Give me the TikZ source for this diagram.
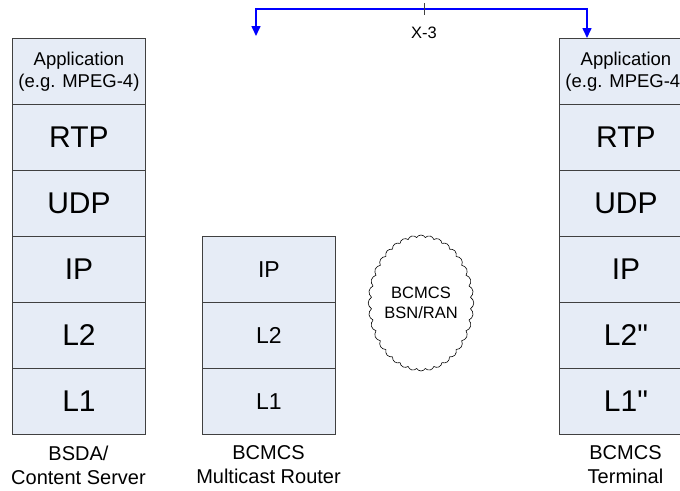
\documentclass[tikz,border=0pt]{standalone}
\usepackage{fontspec}
\setmainfont{Liberation Sans}
\usetikzlibrary{shapes.symbols,arrows.meta}
\definecolor{layerfill}{RGB}{230,236,246}
\definecolor{layerline}{RGB}{64,64,64}
\definecolor{xblue}{RGB}{0,0,255}

\begin{document}
\begin{tikzpicture}[x=1pt,y=-1pt,
	layer/.style={draw=layerline, line width=0.9pt, fill=layerfill, minimum width=133pt, minimum height=66pt, inner sep=0pt, align=center, anchor=north west},
	bigtxt/.style={font=\fontsize{30}{32}\selectfont},
	midtxt/.style={font=\fontsize{23}{25}\selectfont},
	apptxt/.style={font=\fontsize{18.5}{22}\selectfont},
	caption/.style={font=\fontsize{20}{24}\selectfont, align=center, anchor=north}]
			%%%%% START %%%%%
			\def\xsrv{12}
			\def\xrtr{202}
			\def\xterm{559}
			\def\ytop{38}
			\def\dh{66}
			\def\xcap{442}
			
			\useasboundingbox (0,0) rectangle (680,490);
			\clip (0,0) rectangle (680,490);
			
			% content server stack
			\node[layer, apptxt] (srvapp) at (\xsrv,\ytop) {Application\\(e.g. MPEG-4)};
			\node[layer, bigtxt] (srvrtp) at (\xsrv,\ytop+\dh) {RTP};
			\node[layer, bigtxt] (srvudp) at (\xsrv,\ytop+2*\dh) {UDP};
			\node[layer, bigtxt] (srvip) at (\xsrv,\ytop+3*\dh) {IP};
			\node[layer, bigtxt] (srvltwo) at (\xsrv,\ytop+4*\dh) {L2};
			\node[layer, bigtxt] (srvlone) at (\xsrv,\ytop+5*\dh) {L1};
			\node[caption] (srvcap) at (\xsrv+66.5,\xcap) {BSDA/\\Content Server};
			
			% multicast router stack
			\node[layer, midtxt] (rtrip) at (\xrtr,\ytop+3*\dh) {IP};
			\node[layer, midtxt] (rtrltwo) at (\xrtr,\ytop+4*\dh) {L2};
			\node[layer, midtxt] (rtrlone) at (\xrtr,\ytop+5*\dh) {L1};
			\node[caption] (rtrcap) at (\xrtr+66.5,\xcap) {BCMCS\\Multicast Router};
			
			% BSN/RAN cloud
			\node[cloud, draw=black, line width=0.6pt, cloud puffs=36, cloud puff arc=120, cloud ignores aspect, minimum width=90pt, minimum height=136pt, inner sep=0pt, align=center, font=\fontsize{16.5}{20}\selectfont] (bsn) at (421,303) {BCMCS\\BSN/RAN};
			
			% terminal stack
			\node[layer, apptxt] (termapp) at (\xterm,\ytop) {Application\\(e.g. MPEG-4)};
			\node[layer, bigtxt] (termrtp) at (\xterm,\ytop+\dh) {RTP};
			\node[layer, bigtxt] (termudp) at (\xterm,\ytop+2*\dh) {UDP};
			\node[layer, bigtxt] (termip) at (\xterm,\ytop+3*\dh) {IP};
			\node[layer, bigtxt] (termltwo) at (\xterm,\ytop+4*\dh) {L2\textquotedbl};
			\node[layer, bigtxt] (termlone) at (\xterm,\ytop+5*\dh) {L1\textquotedbl};
			\node[caption] (termcap) at (\xterm+66.5,\xcap) {BCMCS\\Terminal};
			
			% X-3 reference point
			\coordinate (xleft) at (256,36);
			\coordinate (xmid) at (424,9);
			\draw[xblue, line width=1.6pt, {Triangle[length=10pt,width=9pt]}-{Triangle[length=10pt,width=9pt]}] (xleft) |- (xmid) -| (termapp.north -| 587,0);
			\draw[layerline, line width=0.8pt] (424,3) -- (424,15);
			\node[font=\fontsize{16.5}{18}\selectfont] (xlabel) at (424,33) {X-3};
			%%%%% END %%%%%
\end{tikzpicture}
\end{document}
